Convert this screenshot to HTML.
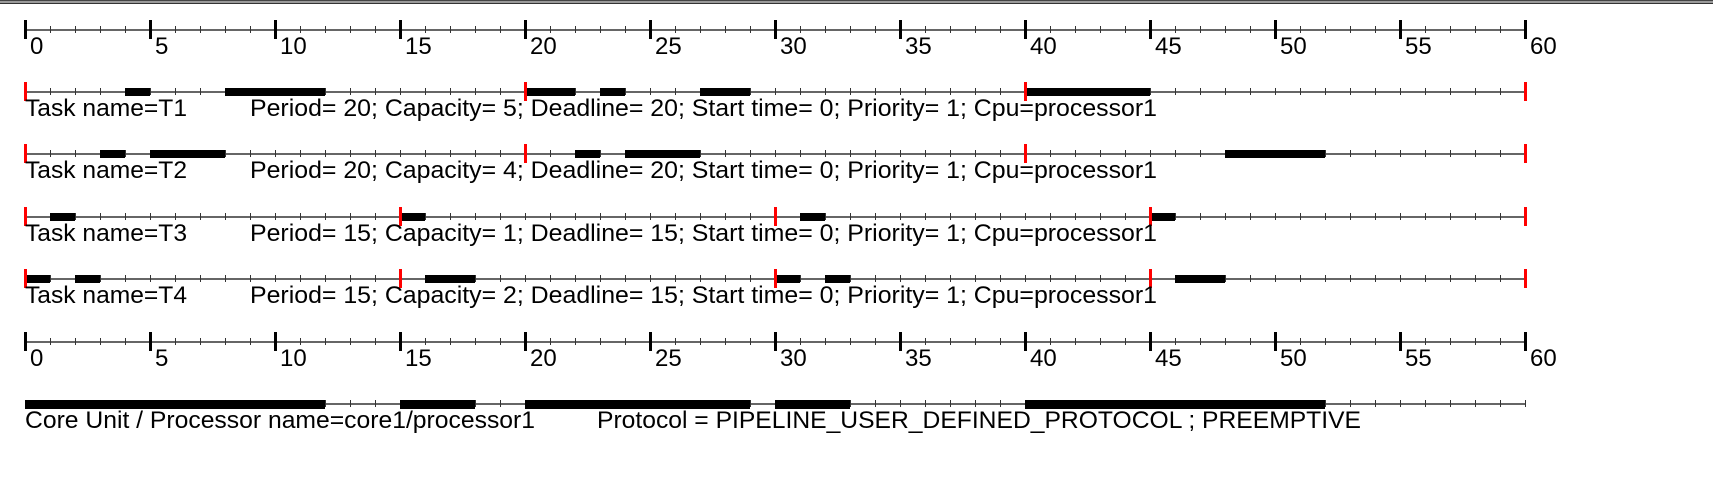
<!DOCTYPE html>
<html><head><meta charset="utf-8"><style>
html,body{margin:0;padding:0;background:#fff;width:1713px;height:497px;overflow:hidden}
svg{display:block}
text{font-family:"Liberation Sans",Arial,sans-serif;font-size:24px;fill:#000}
</style></head><body>
<svg width="1713" height="497" viewBox="0 0 1713 497">
<rect x="0" y="0" width="1713" height="1" fill="#444"/>
<rect x="0" y="1" width="1713" height="2" fill="#9a9a9a"/>
<rect x="0" y="3" width="1713" height="1" fill="#333"/>

<!-- top axis -->
<g>
<line x1="25" y1="30" x2="1525" y2="30" stroke="#333" stroke-width="1.5"/>
<line x1="25" y1="30" x2="1526" y2="30" stroke="#333" stroke-width="7" stroke-dasharray="1 24" transform="translate(0,-0.5)"/>
<line x1="24" y1="29.5" x2="1530" y2="29.5" stroke="#000" stroke-width="19" stroke-dasharray="3 122"/>
<text x="30" y="54">0</text><text x="155" y="54">5</text><text x="280" y="54">10</text><text x="405" y="54">15</text>
<text x="530" y="54">20</text><text x="655" y="54">25</text><text x="780" y="54">30</text><text x="905" y="54">35</text>
<text x="1030" y="54">40</text><text x="1155" y="54">45</text><text x="1280" y="54">50</text><text x="1405" y="54">55</text>
<text x="1530" y="54">60</text>
</g>

<!-- T1 -->
<g>
<line x1="25" y1="92" x2="1525" y2="92" stroke="#333" stroke-width="1.5"/>
<line x1="25" y1="91.5" x2="1526" y2="91.5" stroke="#333" stroke-width="7" stroke-dasharray="1 24"/>
<g fill="#000"><rect x="125" y="88" width="25" height="8"/><rect x="225" y="88" width="100" height="8"/><rect x="525" y="88" width="50" height="8"/><rect x="600" y="88" width="25" height="8"/><rect x="700" y="88" width="50" height="8"/><rect x="1025" y="88" width="125" height="8"/></g>
<line x1="24" y1="91.5" x2="1530" y2="91.5" stroke="#f00" stroke-width="19" stroke-dasharray="3 497"/>
<text x="25" y="116" textLength="162" lengthAdjust="spacingAndGlyphs">Task name=T1</text>
<text x="250" y="116" textLength="907" lengthAdjust="spacingAndGlyphs">Period= 20; Capacity= 5; Deadline= 20; Start time= 0; Priority= 1; Cpu=processor1</text>
</g>

<!-- T2 -->
<g>
<line x1="25" y1="154" x2="1525" y2="154" stroke="#333" stroke-width="1.5"/>
<line x1="25" y1="153.5" x2="1526" y2="153.5" stroke="#333" stroke-width="7" stroke-dasharray="1 24"/>
<g fill="#000"><rect x="100" y="150" width="25" height="8"/><rect x="150" y="150" width="75" height="8"/><rect x="575" y="150" width="25" height="8"/><rect x="625" y="150" width="75" height="8"/><rect x="1225" y="150" width="100" height="8"/></g>
<line x1="24" y1="153.5" x2="1530" y2="153.5" stroke="#f00" stroke-width="19" stroke-dasharray="3 497"/>
<text x="25" y="178" textLength="162" lengthAdjust="spacingAndGlyphs">Task name=T2</text>
<text x="250" y="178" textLength="907" lengthAdjust="spacingAndGlyphs">Period= 20; Capacity= 4; Deadline= 20; Start time= 0; Priority= 1; Cpu=processor1</text>
</g>

<!-- T3 -->
<g>
<line x1="25" y1="217" x2="1525" y2="217" stroke="#333" stroke-width="1.5"/>
<line x1="25" y1="216.5" x2="1526" y2="216.5" stroke="#333" stroke-width="7" stroke-dasharray="1 24"/>
<g fill="#000"><rect x="50" y="213" width="25" height="8"/><rect x="400" y="213" width="25" height="8"/><rect x="800" y="213" width="25" height="8"/><rect x="1150" y="213" width="25" height="8"/></g>
<line x1="24" y1="216.5" x2="1530" y2="216.5" stroke="#f00" stroke-width="19" stroke-dasharray="3 372"/>
<text x="25" y="241" textLength="162" lengthAdjust="spacingAndGlyphs">Task name=T3</text>
<text x="250" y="241" textLength="907" lengthAdjust="spacingAndGlyphs">Period= 15; Capacity= 1; Deadline= 15; Start time= 0; Priority= 1; Cpu=processor1</text>
</g>

<!-- T4 -->
<g>
<line x1="25" y1="279" x2="1525" y2="279" stroke="#333" stroke-width="1.5"/>
<line x1="25" y1="278.5" x2="1526" y2="278.5" stroke="#333" stroke-width="7" stroke-dasharray="1 24"/>
<g fill="#000"><rect x="25" y="275" width="25" height="8"/><rect x="75" y="275" width="25" height="8"/><rect x="425" y="275" width="50" height="8"/><rect x="775" y="275" width="25" height="8"/><rect x="825" y="275" width="25" height="8"/><rect x="1175" y="275" width="50" height="8"/></g>
<line x1="24" y1="278.5" x2="1530" y2="278.5" stroke="#f00" stroke-width="19" stroke-dasharray="3 372"/>
<text x="25" y="303" textLength="162" lengthAdjust="spacingAndGlyphs">Task name=T4</text>
<text x="250" y="303" textLength="907" lengthAdjust="spacingAndGlyphs">Period= 15; Capacity= 2; Deadline= 15; Start time= 0; Priority= 1; Cpu=processor1</text>
</g>

<!-- bottom axis -->
<g>
<line x1="25" y1="342" x2="1525" y2="342" stroke="#333" stroke-width="1.5"/>
<line x1="25" y1="341.5" x2="1526" y2="341.5" stroke="#333" stroke-width="7" stroke-dasharray="1 24"/>
<line x1="24" y1="341.5" x2="1530" y2="341.5" stroke="#000" stroke-width="19" stroke-dasharray="3 122"/>
<text x="30" y="366">0</text><text x="155" y="366">5</text><text x="280" y="366">10</text><text x="405" y="366">15</text>
<text x="530" y="366">20</text><text x="655" y="366">25</text><text x="780" y="366">30</text><text x="905" y="366">35</text>
<text x="1030" y="366">40</text><text x="1155" y="366">45</text><text x="1280" y="366">50</text><text x="1405" y="366">55</text>
<text x="1530" y="366">60</text>
</g>

<!-- processor -->
<g>
<line x1="25" y1="404" x2="1525" y2="404" stroke="#333" stroke-width="1.5"/>
<line x1="25" y1="403.5" x2="1526" y2="403.5" stroke="#333" stroke-width="7" stroke-dasharray="1 24"/>
<g fill="#000"><rect x="25" y="400" width="300" height="9"/><rect x="400" y="400" width="75" height="9"/><rect x="525" y="400" width="225" height="9"/><rect x="775" y="400" width="75" height="9"/><rect x="1025" y="400" width="300" height="9"/></g>
<text x="25" y="428" textLength="510" lengthAdjust="spacingAndGlyphs">Core Unit / Processor name=core1/processor1</text>
<text x="597" y="428" textLength="764" lengthAdjust="spacingAndGlyphs">Protocol = PIPELINE_USER_DEFINED_PROTOCOL ; PREEMPTIVE</text>
</g>
</svg>
</body></html>
